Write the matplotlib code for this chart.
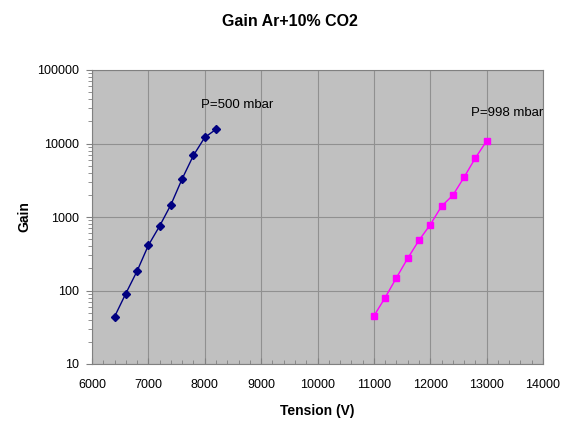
import numpy as np
import matplotlib.pyplot as plt
from matplotlib.ticker import LogLocator, MultipleLocator, FixedLocator

plt.rcParams['font.family'] = ['Liberation Sans', 'DejaVu Sans']

# gain curves, Ar + 10% CO2
v_500 = [6400, 6600, 6800, 7000, 7200, 7400, 7600, 7800, 8000, 8200]
g_500 = [44, 91, 184, 412, 755, 1470, 3320, 6900, 12100, 15600]

v_998 = [11000, 11200, 11400, 11600, 11800, 12000, 12200, 12400, 12600, 12800, 13000]
g_998 = [45, 80, 149, 274, 482, 785, 1400, 1970, 3470, 6350, 10800]

x_ticks = [6000, 7000, 8000, 9000, 10000, 11000, 12000, 13000, 14000]
y_ticks = [10, 100, 1000, 10000, 100000]

fig = plt.figure(figsize=(5.63, 4.21), dpi=100)
ax = fig.add_axes([92/563, 57/421, 451/563, 294/421])
ax.set_facecolor('#c0c0c0')

ax.plot(v_500, g_500, color='#000080', lw=1.0, marker='D', ms=4.5,
        markerfacecolor='#000080', markeredgecolor='#000080')
ax.plot(v_998, g_998, color='#ff00ff', lw=1.0, marker='s', ms=5,
        markerfacecolor='#ff00ff', markeredgecolor='#ff00ff')

ax.set_yscale('log')
ax.set_xlim(6000, 14000)
ax.set_ylim(10, 100000)
ax.xaxis.set_major_locator(FixedLocator(x_ticks))
ax.xaxis.set_minor_locator(MultipleLocator(200))
ax.yaxis.set_major_locator(FixedLocator(y_ticks))
ax.yaxis.set_minor_locator(LogLocator(base=10, subs=np.arange(2, 10)))
ax.set_xticklabels([str(t) for t in x_ticks])
ax.set_yticklabels([str(t) for t in y_ticks])
ax.yaxis.set_minor_formatter(plt.NullFormatter())

ax.grid(True, which='major', color='#909090', lw=0.8)
ax.set_axisbelow(True)
ax.tick_params(which='both', colors='#808080', labelcolor='black', labelsize=9)
ax.tick_params(axis='x', which='both', direction='in', pad=11)
ax.tick_params(axis='y', which='both', direction='out', pad=5.5)
ax.tick_params(which='major', length=4)
ax.tick_params(which='minor', length=3)
for s in ax.spines.values():
    s.set_color('#808080')

ax.text(7933, 33000, 'P=500 mbar', fontsize=9.5, va='center')
ax.text(12730, 26400, 'P=998 mbar', fontsize=9.5, va='center')

ax.set_xlabel('Tension (V)', fontsize=10, fontweight='bold', labelpad=9)
ax.set_ylabel('Gain', fontsize=10, fontweight='bold', labelpad=4)
fig.text(290/563, 1 - 21/421, 'Gain Ar+10% CO2', fontsize=11.5, fontweight='bold',
         ha='center', va='center')

fig.savefig('out.png', dpi=100)
